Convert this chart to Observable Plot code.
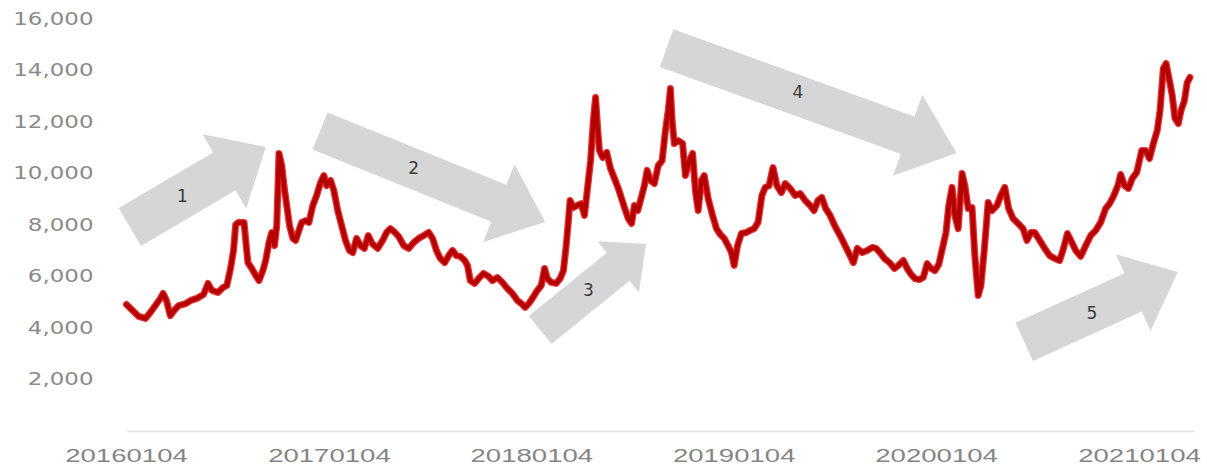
<!DOCTYPE html>
<html><head><meta charset="utf-8">
<script src="https://cdn.jsdelivr.net/npm/d3@7"></script>
<script src="https://cdn.jsdelivr.net/npm/@observablehq/plot@0.6"></script>
<style>
html,body{margin:0;padding:0;background:#fff;}
#chart svg{display:block;}
</style>
</head><body><div id="chart"></div>
<script>
// ---- data (date, value) ----
const prices2016 = [
["2016-01-04",4930],["2016-01-15",4700],["2016-01-26",4470],["2016-02-07",4390],["2016-02-16",4620],
["2016-02-25",4890],["2016-03-05",5170],["2016-03-10",5360],["2016-03-16",5090],["2016-03-23",4500],
["2016-03-30",4700],["2016-04-07",4890],["2016-04-20",4970],["2016-04-29",5090],["2016-05-10",5170],
["2016-05-22",5320],["2016-05-30",5750],["2016-06-06",5480],["2016-06-17",5400],["2016-06-26",5590],
["2016-07-03",5670],["2016-07-10",6370],["2016-07-15",7030],["2016-07-19",8040],["2016-07-24",8120],
["2016-08-03",8120],["2016-08-06",7420],["2016-08-10",6560],["2016-08-17",6330],["2016-08-24",6060],
["2016-08-30",5860],["2016-09-06",6250],["2016-09-11",6640],["2016-09-17",7340],["2016-09-22",7730],
["2016-09-27",7220],["2016-10-01",8000],["2016-10-05",10800],["2016-10-10",10330],["2016-10-14",9550],
["2016-10-19",8780],["2016-10-24",8000],["2016-10-30",7500],["2016-11-04",7420],["2016-11-10",7810],
["2016-11-15",8120],["2016-11-22",8190],["2016-11-28",8120],["2016-12-05",8780],["2016-12-12",9170],
["2016-12-19",9670],["2016-12-25",9940],["2016-12-30",9550]
];
const prices2017 = [
["2017-01-06",9750],["2017-01-12",9360],["2017-01-19",8580],["2017-01-26",8000],["2017-02-02",7420],
["2017-02-09",7030],["2017-02-15",6950],["2017-02-22",7500],["2017-03-01",7220],["2017-03-08",7110],
["2017-03-15",7610],["2017-03-22",7300],["2017-04-01",7110],["2017-04-10",7420],["2017-04-17",7730],
["2017-04-24",7880],["2017-05-02",7730],["2017-05-09",7570],["2017-05-18",7220],["2017-05-27",7110],
["2017-06-05",7340],["2017-06-14",7500],["2017-06-23",7610],["2017-07-02",7730],["2017-07-09",7500],
["2017-07-16",7030],["2017-07-23",6720],["2017-07-31",6560],["2017-08-07",6830],["2017-08-14",7030],
["2017-08-21",6830],["2017-08-28",6800],["2017-09-05",6640],["2017-09-10",6450],["2017-09-15",5860],
["2017-09-23",5750],["2017-09-30",5940],["2017-10-09",6140],["2017-10-18",6020],["2017-10-25",5860],
["2017-11-03",5980],["2017-11-12",5790],["2017-11-21",5550],["2017-11-30",5360],["2017-12-09",5090],
["2017-12-16",4970],["2017-12-23",4820],["2017-12-31",5010]
];
const prices2018 = [
["2018-01-07",5240],["2018-01-14",5480],["2018-01-21",5670],["2018-01-27",6330],["2018-02-01",5940],
["2018-02-08",5790],["2018-02-17",5750],["2018-02-24",5940],["2018-03-02",6250],["2018-03-07",7220],
["2018-03-11",8190],["2018-03-14",8970],["2018-03-20",8700],["2018-03-27",8780],["2018-04-03",8850],
["2018-04-09",8390],["2018-04-14",9360],["2018-04-20",10520],["2018-04-25",12080],["2018-04-29",12970],
["2018-05-03",11690],["2018-05-06",10910],["2018-05-12",10640],["2018-05-19",10840],["2018-05-26",10210],
["2018-06-02",9830],["2018-06-09",9440],["2018-06-16",8970],["2018-06-22",8580],["2018-06-27",8270],
["2018-07-03",8080],["2018-07-08",8780],["2018-07-14",8580],["2018-07-19",8970],["2018-07-26",9550],
["2018-07-31",10140],["2018-08-06",9750],["2018-08-13",9630],["2018-08-20",10330],["2018-08-27",10520],
["2018-09-02",11690],["2018-09-07",12470],["2018-09-11",13320],["2018-09-14",12080],["2018-09-18",11180],
["2018-09-25",11300],["2018-10-03",11180],["2018-10-08",9940],["2018-10-15",10520],["2018-10-21",10800],
["2018-10-26",9360],["2018-10-31",8580],["2018-11-06",9750],["2018-11-11",9940],["2018-11-18",9050],
["2018-11-26",8390],["2018-12-03",7880],["2018-12-10",7650],["2018-12-17",7500],["2018-12-24",7220],
["2018-12-30",6950]
];
const prices2019 = [
["2019-01-04",6450],["2019-01-10",7220],["2019-01-17",7690],["2019-01-26",7730],["2019-02-02",7810],
["2019-02-09",7880],["2019-02-16",8120],["2019-02-23",9170],["2019-03-01",9480],["2019-03-08",9550],
["2019-03-15",10250],["2019-03-22",9550],["2019-03-30",9280],["2019-04-06",9630],["2019-04-15",9440],
["2019-04-24",9170],["2019-05-03",9240],["2019-05-12",8970],["2019-05-21",8780],["2019-05-28",8580],
["2019-06-04",8970],["2019-06-11",9090],["2019-06-18",8660],["2019-06-26",8390],["2019-07-05",7960],
["2019-07-14",7610],["2019-07-23",7220],["2019-07-30",6910],["2019-08-07",6560],["2019-08-14",7110],
["2019-08-23",6950],["2019-09-01",7030],["2019-09-10",7150],["2019-09-17",7110],["2019-09-24",6950],
["2019-10-02",6720],["2019-10-11",6560],["2019-10-20",6330],["2019-10-27",6450],["2019-11-05",6640],
["2019-11-12",6330],["2019-11-19",6100],["2019-11-26",5940],["2019-12-04",5900],["2019-12-11",5980],
["2019-12-18",6520],["2019-12-25",6330]
];
const prices2020 = [
["2020-01-01",6250],["2020-01-08",6490],["2020-01-15",7150],["2020-01-21",7730],["2020-01-26",8780],
["2020-02-01",9480],["2020-02-06",8390],["2020-02-12",7880],["2020-02-19",10020],["2020-02-24",9550],
["2020-03-01",8660],["2020-03-08",8700],["2020-03-13",6830],["2020-03-19",5280],["2020-03-24",5670],
["2020-03-30",7030],["2020-04-06",8890],["2020-04-13",8580],["2020-04-22",8780],["2020-04-29",9170],
["2020-05-06",9480],["2020-05-13",8660],["2020-05-21",8270],["2020-05-30",8080],["2020-06-08",7880],
["2020-06-15",7420],["2020-06-22",7730],["2020-06-29",7730],["2020-07-08",7420],["2020-07-17",7110],
["2020-07-26",6830],["2020-08-04",6720],["2020-08-13",6640],["2020-08-20",7110],["2020-08-27",7690],
["2020-09-04",7340],["2020-09-11",7030],["2020-09-20",6800],["2020-09-29",7220],["2020-10-08",7610],
["2020-10-17",7810],["2020-10-26",8120],["2020-11-04",8660],["2020-11-11",8850],["2020-11-18",9130],
["2020-11-26",9550],["2020-12-01",9980],["2020-12-08",9550],["2020-12-15",9440],["2020-12-22",9830],
["2020-12-30",10060]
];
const prices2021 = [
["2021-01-08",10910],["2021-01-15",10910],["2021-01-22",10600],["2021-01-29",11180],["2021-02-05",11690],
["2021-02-10",12470],["2021-02-16",14100],["2021-02-21",14290],["2021-02-27",13630],["2021-03-04",13050],
["2021-03-09",12160],["2021-03-15",11960],["2021-03-20",12470],["2021-03-26",12850],["2021-03-31",13550],
["2021-04-05",13750]
];

const yTicks = [2000, 4000, 6000, 8000, 10000, 12000, 14000, 16000];
const xTickLabels = ["20160104", "20170104", "20180104", "20190104", "20200104", "20210104"];

// trend arrows (annotation), in data units
const arrowNames = ["1", "2", "3", "4", "5"];
const arrowTailDate = ["2016-01-11", "2016-12-19", "2018-01-20", "2018-09-05", "2020-06-11"];
const arrowTailValue = [7920, 11650, 3920, 14870, 3460];
const arrowTipDate = ["2016-09-12", "2018-01-29", "2018-07-30", "2020-02-10", "2021-03-15"];
const arrowTipValue = [11030, 8120, 7260, 10800, 6170];
const arrowLabelDate = ["2016-04-14", "2017-06-05", "2018-04-16", "2019-04-29", "2020-10-10"];
const arrowLabelValue = [9130, 10210, 5480, 13170, 4580];

// ---- styling ----
const arrowShape = [
  {body: 44, head: 86, len: 48},
  {body: 40, head: 84, len: 50},
  {body: 36, head: 66, len: 36},
  {body: 40, head: 86, len: 52},
  {body: 42, head: 84, len: 49}
];

const parseD = d3.utcParse("%Y-%m-%d");
const parseTick = d3.utcParse("%Y%m%d");
const series = [...prices2016, ...prices2017, ...prices2018, ...prices2019, ...prices2020, ...prices2021]
  .map(([d, v]) => ({date: parseD(d), value: v}));
const xTicks = xTickLabels.map(parseTick);
const labels = arrowNames.map((n, i) => ({name: n, date: parseD(arrowLabelDate[i]), value: arrowLabelValue[i]}));

const chart = Plot.plot({
  width: 1207,
  height: 469,
  marginLeft: 127,
  marginRight: 12,
  marginTop: 10,
  marginBottom: 38,
  style: {background: "#fff", fontFamily: "DejaVu Sans", overflow: "visible"},
  x: {type: "utc", domain: [xTicks[0], xTicks[xTicks.length - 1]], range: [126, 1139]},
  y: {domain: [0, 16000], range: [431, 19]},
  marks: [
    Plot.ruleY([0], {stroke: "#e3e3e3", strokeWidth: 1.5}),
    Plot.axisY(yTicks, {tickSize: 0, tickPadding: 34, tickFormat: d3.format(","), fill: "#8a8a8a",
      fontSize: 17, fontFamily: "DejaVu Sans", label: null}),
    Plot.axisX(xTicks, {tickSize: 0, tickPadding: 17, tickFormat: d3.utcFormat("%Y%m%d"), fill: "#858585",
      fontSize: 19, fontFamily: "Liberation Sans", label: null}),
    Plot.line(series, {x: "date", y: "value", stroke: "#e01010", strokeWidth: 7, strokeLinejoin: "round", strokeOpacity: 0.85}),
    Plot.line(series, {x: "date", y: "value", stroke: "#b40000", strokeWidth: 4.5, strokeLinejoin: "round"}),
    Plot.text(labels, {x: "date", y: "value", text: "name", fill: "#3a3a3a", fontSize: 17, fontFamily: "DejaVu Sans"})
  ]
});
document.getElementById("chart").appendChild(chart);

// horizontally stretch axis labels to match the reference's wide glyphs
function stretch(sel, s) {
  sel.each(function () {
    const t = this.getAttribute("transform") || "";
    const x = +(this.getAttribute("x") || 0);
    this.removeAttribute("x");
    this.setAttribute("transform", `${t} translate(${x},0) scale(${s},1)`);
  });
}
const svg = d3.select(chart);
stretch(svg.selectAll('g[aria-label="y-axis tick label"] text'), 1.35);
stretch(svg.selectAll('g[aria-label="x-axis tick label"] text'), 1.45);

// block arrows positioned through the chart's scales
const sx = chart.scale("x"), sy = chart.scale("y");
const arrowG = svg.insert("g", 'g[aria-label="line"]').attr("aria-label", "trend arrows");
arrowNames.forEach((n, i) => {
  const tx = sx.apply(parseD(arrowTailDate[i])), ty = sy.apply(arrowTailValue[i]);
  const px = sx.apply(parseD(arrowTipDate[i])), py = sy.apply(arrowTipValue[i]);
  const L = Math.hypot(px - tx, py - ty);
  const ux = (px - tx) / L, uy = (py - ty) / L;
  const nx = -uy, ny = ux;
  const {body, head, len} = arrowShape[i];
  const bx = px - ux * len, by = py - uy * len;
  const pts = [
    [tx + nx * body / 2, ty + ny * body / 2],
    [bx + nx * body / 2, by + ny * body / 2],
    [bx + nx * head / 2, by + ny * head / 2],
    [px, py],
    [bx - nx * head / 2, by - ny * head / 2],
    [bx - nx * body / 2, by - ny * body / 2],
    [tx - nx * body / 2, ty - ny * body / 2]
  ];
  arrowG.append("polygon").attr("points", pts.map(p => p.join(",")).join(" ")).attr("fill", "#d6d6d6");
});
</script>
</body></html>
